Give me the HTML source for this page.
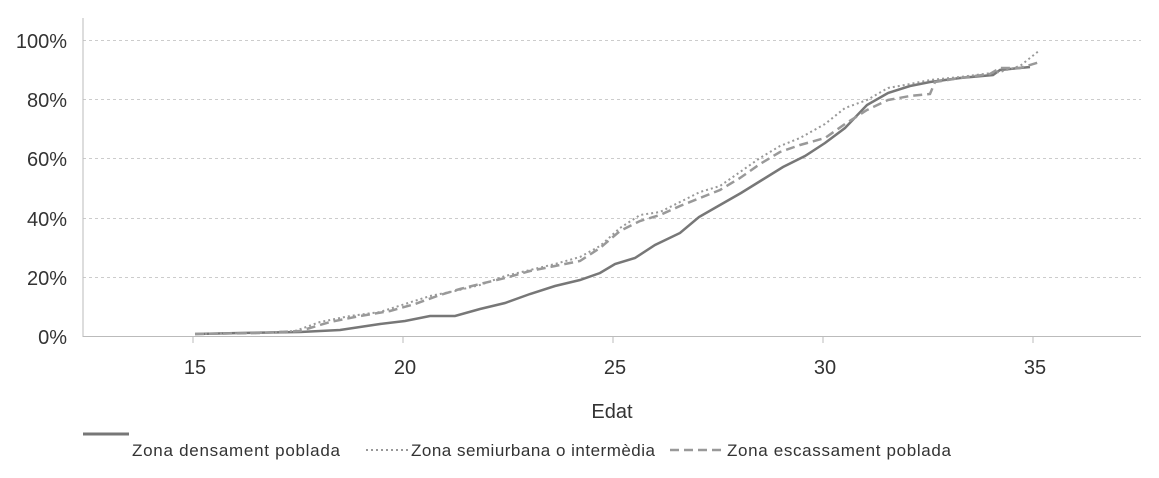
<!DOCTYPE html>
<html><head><meta charset="utf-8"><style>
body{margin:0;background:#fff;}
svg text{font-family:"Liberation Sans",sans-serif;fill:#333;}
</style></head><body>
<svg width="1159" height="473" xmlns="http://www.w3.org/2000/svg">
<g stroke="#ccc" stroke-dasharray="3,3" stroke-width="1">
<line x1="83" x2="1141" y1="40.5" y2="40.5"/>
<line x1="83" x2="1141" y1="99.5" y2="99.5"/>
<line x1="83" x2="1141" y1="158.5" y2="158.5"/>
<line x1="83" x2="1141" y1="218.5" y2="218.5"/>
<line x1="83" x2="1141" y1="277.5" y2="277.5"/>
</g>
<line x1="83" y1="18" x2="83" y2="337" stroke="#bbb"/>
<line x1="83" y1="336.5" x2="1141" y2="336.5" stroke="#bbb"/>
<g stroke="#bbb"><line x1="193" y1="337" x2="193" y2="343"/><line x1="403" y1="337" x2="403" y2="343"/><line x1="613" y1="337" x2="613" y2="343"/><line x1="823" y1="337" x2="823" y2="343"/><line x1="1033" y1="337" x2="1033" y2="343"/></g>
<g font-size="20" text-anchor="end">
<text x="67" y="48">100%</text><text x="67" y="107">80%</text><text x="67" y="166">60%</text><text x="67" y="226">40%</text><text x="67" y="285">20%</text><text x="67" y="344">0%</text>
</g>
<g font-size="20" text-anchor="middle">
<text x="195" y="374">15</text><text x="405" y="374">20</text><text x="615" y="374">25</text><text x="825" y="374">30</text><text x="1035" y="374">35</text>
<text x="612" y="418">Edat</text>
</g>
<polyline fill="none" stroke="#777" stroke-width="2.5" points="195,334 240,333 300,332 340,330 380,324 405,321 430,316 455,316 480,309 505,303 530,294 555,286 580,280 600,273 615,264 635,258 655,245 680,233 699,217 720,205 741,193 762,180 783,167 805,156 825,143 845,128 867,105 888,93 910,86 930,82 960,78 993,75 1000,70 1030,67"/>
<polyline fill="none" stroke="#999" stroke-width="2" stroke-dasharray="2,3" points="195,334 260,333 295,331 320,322 350,316 380,312 405,304 430,296 455,291 480,285 505,276 530,270 555,264 580,257 600,246 620,228 640,215 660,212 680,202 700,192 720,186 740,172 760,158 780,146 800,138 825,124 845,108 867,100 888,88 910,84 930,80 960,77 1000,72 1020,66 1040,50"/>
<polyline fill="none" stroke="#999" stroke-width="2.5" stroke-dasharray="9,5" points="195,334 260,333 300,331 330,322 360,316 390,311 415,304 440,295 460,289 480,284 505,278 530,271 555,266 580,261 600,248 620,231 640,221 660,215 680,206 700,198 720,190 740,178 760,164 780,152 800,145 825,138 845,124 867,110 888,100 910,96 930,94 935,82 960,78 990,74 1000,68 1020,68 1040,62"/>
<line x1="83" y1="434" x2="129" y2="434" stroke="#777" stroke-width="3"/>
<line x1="366" y1="450" x2="410" y2="450" stroke="#999" stroke-width="2" stroke-dasharray="2,3"/>
<line x1="670" y1="450" x2="726" y2="450" stroke="#999" stroke-width="2.5" stroke-dasharray="9,5"/>
<g font-size="17">
<text x="132" y="456" textLength="208">Zona densament poblada</text>
<text x="411" y="456" textLength="244">Zona semiurbana o intermèdia</text>
<text x="727" y="456" textLength="224">Zona escassament poblada</text>
</g>
</svg>
</body></html>
